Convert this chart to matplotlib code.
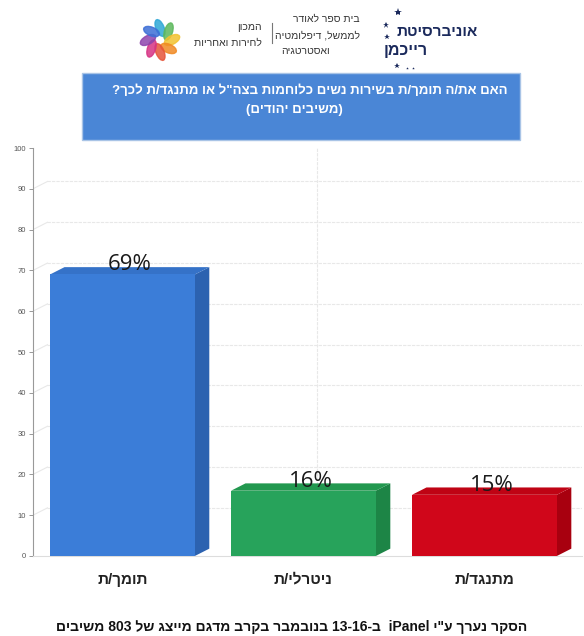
import re
import math
import matplotlib
matplotlib.use('Agg')
import matplotlib.pyplot as plt
from matplotlib.patches import Polygon, Rectangle, Ellipse

# נתונים
categories = ['תומך/ת', 'ניטרלי/ת', 'מתנגד/ת']
values = [69, 16, 15]
value_labels = ['69%', '16%', '15%']
yticks = [0, 10, 20, 30, 40, 50, 60, 70, 80, 90, 100]
title_lines = ['האם את/ה תומך/ת בשירות נשים כלוחמות בצה"ל או מתנגד/ת לכך?', '(משיבים יהודים)']
footer = 'הסקר נערך ע"י iPanel  ב-13-16 בנובמבר בקרב מדגם מייצג של 803 משיבים'

front_colors = ['#3b7dd8', '#27a35b', '#d0061a']
side_colors = ['#2c62b0', '#1d8546', '#a8000f']
top_colors = ['#3572c8', '#22984f', '#bf0314']

HEB = re.compile('[\u0590-\u05FF]')
MIRROR = {'(': ')', ')': '('}


def rtl(s):
    # matplotlib כותב משמאל לימין, לכן הופכים את הסדר לתצוגה
    out = []
    for w in reversed(s.split(' ')):
        if HEB.search(w):
            runs = re.findall(r'[A-Za-z0-9]+(?:[-.,:/][A-Za-z0-9]+)*|[^A-Za-z0-9]+', w)
            vis = []
            for r in reversed(runs):
                if re.match('[A-Za-z0-9]', r):
                    vis.append(r)
                else:
                    vis.append(''.join(MIRROR.get(c, c) for c in reversed(r)))
            out.append(''.join(vis))
        else:
            out.append(w)
    return ' '.join(out)


plt.rcParams['font.family'] = ['Liberation Sans', 'DejaVu Sans']

W, H = 584, 636
fig = plt.figure(figsize=(W / 100, H / 100), dpi=100)
fig.patch.set_facecolor('white')


def fx(px):
    return px / W


def fy(py):
    return 1 - py / H


# ---- לוגו ----
fig.text(fx(478), fy(32), rtl('אוניברסיטת'), ha='right', va='center',
         fontsize=11, fontweight='bold', color='#1b2a5c')
fig.text(fx(428), fy(50), rtl('רייכמן'), ha='right', va='center',
         fontsize=11.5, fontweight='bold', color='#1b2a5c')
for sx, sy, ss in [(398, 12, 6), (386, 25, 5), (387, 37, 4), (397, 66, 4), (407, 68, 2), (413, 68, 2)]:
    fig.lines.append(plt.Line2D([fx(sx)], [fy(sy)], marker='*', markersize=ss, markeredgewidth=0,
                                color='#1b2a5c', transform=fig.transFigure))
fig.text(fx(360), fy(19), rtl('בית ספר לאודר'), ha='right', va='center', fontsize=7.5, color='#333333')
fig.text(fx(360), fy(35), rtl('לממשל, דיפלומטיה'), ha='right', va='center', fontsize=7.5, color='#333333')
fig.text(fx(330), fy(51), rtl('ואסטרטגיה'), ha='right', va='center', fontsize=7.5, color='#333333')
fig.lines.append(plt.Line2D([fx(272), fx(272)], [fy(23), fy(43)], color='#777777', lw=0.8,
                            transform=fig.transFigure))
fig.text(fx(262), fy(27), rtl('המכון'), ha='right', va='center', fontsize=7.5, color='#333333')
fig.text(fx(262), fy(43), rtl('לחירות ואחריות'), ha='right', va='center', fontsize=7.5, color='#333333')
petals = ['#2ea7d6', '#5cb85c', '#f2c230', '#f08a24', '#e6553a', '#d63384', '#8e44ad', '#3d6fd6']
for i, c in enumerate(petals):
    ang = 90 - i * 45
    cx = 160 + 12 * math.cos(math.radians(ang))
    cy = 40 - 12 * math.sin(math.radians(ang))
    e = Ellipse((fx(cx), fy(cy)), fx(8), 18 / H, angle=ang - 90 + 25,
                transform=fig.transFigure, color=c, alpha=0.85)
    fig.patches.append(e)

# ---- תיבת כותרת ----
fig.patches.append(Rectangle((fx(82), fy(140)), fx(438), 67 / H, transform=fig.transFigure,
                             facecolor='#4a86d6', edgecolor='#a9c4e6', lw=1))
fig.text(fx(310), fy(91), rtl(title_lines[0]), ha='center', va='center',
         fontsize=9.5, fontweight='bold', color='white')
fig.text(fx(294), fy(110), rtl(title_lines[1]), ha='center', va='center',
         fontsize=9.5, fontweight='bold', color='white')

# ---- גרף ----
ax = fig.add_axes([fx(33), fy(556), fx(549), (556 - 148) / H])
ax.set_xlim(-0.494, 2.539)
ax.set_ylim(0, 100)
ax.set_facecolor('white')

dx, dy = 0.08, 1.8
width = 0.8

# קווי רשת
for t in yticks[1:]:
    ax.plot([-0.494 + dx, 2.539], [t + dy, t + dy], color='#e8e8e8', lw=0.8, ls=(0, (3, 1)), zorder=0)
    ax.plot([-0.494, -0.494 + dx], [t, t + dy], color='#e8e8e8', lw=0.8, zorder=0)
ax.plot([1.075, 1.075], [0, 100], color='#e8e8e8', lw=0.8, ls=(0, (3, 1)), zorder=0)

for i, v in enumerate(values):
    x0, x1 = i - width / 2, i + width / 2
    ax.add_patch(Polygon([(x1, 0), (x1 + dx, dy), (x1 + dx, v + dy), (x1, v)],
                         closed=True, facecolor=side_colors[i], edgecolor='none', zorder=2))
    ax.add_patch(Polygon([(x0, v), (x0 + dx, v + dy), (x1 + dx, v + dy), (x1, v)],
                         closed=True, facecolor=top_colors[i], edgecolor='none', zorder=2))
    ax.add_patch(Rectangle((x0, 0), width, v, facecolor=front_colors[i], edgecolor='none', zorder=3))
    ax.text(i + dx / 2, v + 1.0, value_labels[i], ha='center', va='baseline',
            fontsize=16, color='#1a1a1a', family=['Open Sans', 'DejaVu Sans'], zorder=4)

ax.set_yticks(yticks)
ax.set_yticklabels([str(t) for t in yticks], fontsize=5.5, color='#555555')
ax.tick_params(axis='y', length=3, width=0.6, color='#888888', pad=2)
ax.set_xticks(range(len(categories)))
ax.set_xticklabels([rtl(c) for c in categories], fontsize=11, fontweight='bold', color='#222222')
ax.tick_params(axis='x', length=0, pad=12)
for s in ['top', 'right']:
    ax.spines[s].set_visible(False)
ax.spines['left'].set_color('#999999')
ax.spines['left'].set_linewidth(0.8)
ax.spines['bottom'].set_color('#dddddd')
ax.spines['bottom'].set_linewidth(0.8)

fig.text(fx(292), fy(627), rtl(footer), ha='center', va='center',
         fontsize=10, fontweight='bold', color='#111111')

fig.savefig('out.png', dpi=100)
